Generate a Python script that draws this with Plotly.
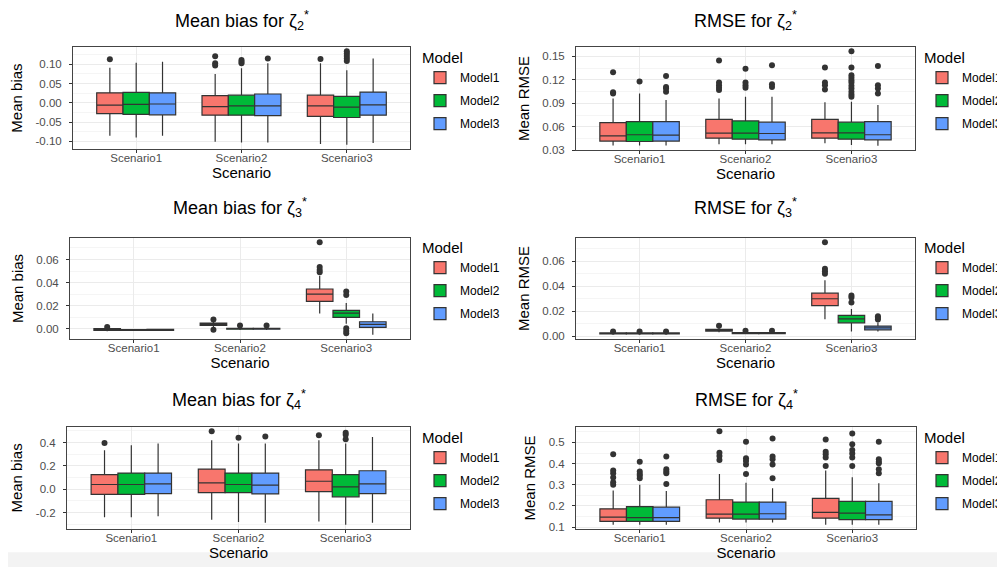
import plotly.graph_objects as go

W, H = 1005, 567

scenarios = ["Scenario1", "Scenario2", "Scenario3"]
models = ["Model1", "Model2", "Model3"]
colors = ["#F8766D", "#00BA38", "#619CFF"]

# ---------- Panel 1: Mean bias for zeta2* (rows = models, cols = scenarios)
bias2_lo  = [[-0.0855, -0.101, -0.107], [-0.090, -0.103, -0.109], [-0.0855, -0.103, -0.104]]
bias2_q1  = [[-0.028, -0.032, -0.035], [-0.030, -0.032, -0.038], [-0.031, -0.033, -0.032]]
bias2_med = [[-0.006, -0.010, -0.008], [-0.004, -0.008, -0.011], [-0.003, -0.008, -0.005]]
bias2_q3  = [[0.026, 0.019, 0.020], [0.027, 0.020, 0.017], [0.026, 0.023, 0.028]]
bias2_hi  = [[0.091, 0.075, 0.103], [0.104, 0.090, 0.085], [0.107, 0.103, 0.115]]
bias2_out = [[[0.113], [0.121, 0.103, 0.097], [0.114]],
             [[], [0.111, 0.107, 0.103], [0.134, 0.128, 0.122, 0.115, 0.109]],
             [[], [0.115], []]]

# ---------- Panel 2: RMSE for zeta2*
rmse2_lo  = [[0.0364, 0.038, 0.0393], [0.0364, 0.038, 0.037], [0.0364, 0.038, 0.036]]
rmse2_q1  = [[0.042, 0.0456, 0.0456], [0.0414, 0.0444, 0.0444], [0.042, 0.0435, 0.0435]]
rmse2_med = [[0.0486, 0.052, 0.0524], [0.050, 0.052, 0.0524], [0.0495, 0.0516, 0.050]]
rmse2_q3  = [[0.0655, 0.0697, 0.0697], [0.0668, 0.0676, 0.066], [0.0668, 0.066, 0.0668]]
rmse2_hi  = [[0.0963, 0.0963, 0.0913], [0.1027, 0.0985, 0.092], [0.0942, 0.0985, 0.0879]]
rmse2_out = [[[0.1297, 0.104, 0.1027], [0.1445, 0.1166, 0.1132, 0.1099, 0.107], [0.1356, 0.1166, 0.113, 0.1078]],
             [[0.118], [0.134, 0.1166, 0.113, 0.110],
              [0.1563, 0.1356, 0.1259, 0.1225, 0.1195, 0.1166, 0.1124, 0.109, 0.1048, 0.1014, 0.0985]],
             [[0.1247, 0.111, 0.109, 0.1048], [0.1386, 0.1145, 0.111], [0.1377, 0.113, 0.109, 0.1027]]]

# ---------- Panel 3: Mean bias for zeta3*
bias3_lo  = [[-0.0020, 0.0015, 0.0133], [-0.0018, -0.0010, 0.0045], [-0.0017, -0.0010, -0.0051]]
bias3_q1  = [[-0.0012, 0.0030, 0.0238], [-0.0013, -0.0003, 0.0099], [-0.0012, -0.0003, 0.0014]]
bias3_med = [[-0.0006, 0.0040, 0.0300], [-0.0009, 0.0000, 0.0136], [-0.0008, 0.0001, 0.0040]]
bias3_q3  = [[0.0002, 0.0050, 0.0345], [-0.0005, 0.0004, 0.0161], [-0.0004, 0.0005, 0.0062]]
bias3_hi  = [[0.0010, 0.0065, 0.0459], [0.0000, 0.0012, 0.0224], [0.0001, 0.0013, 0.0133]]
bias3_out = [[[0.0016], [0.0082, -0.0008], [0.075, 0.0535, 0.051, 0.049]],
             [[], [0.0030], [0.0323, 0.0294, 0.0006, -0.0017, -0.0037]],
             [[], [0.0030], []]]

# ---------- Panel 4: RMSE for zeta3*
rmse3_lo  = [[0.0012, 0.0032, 0.0136], [0.0012, 0.0016, 0.0039], [0.0012, 0.0016, 0.0039]]
rmse3_q1  = [[0.0019, 0.0042, 0.0245], [0.0019, 0.0022, 0.0108], [0.0019, 0.0022, 0.0052]]
rmse3_med = [[0.0023, 0.0050, 0.0300], [0.0023, 0.0026, 0.0139], [0.0023, 0.0026, 0.0067]]
rmse3_q3  = [[0.0027, 0.0056, 0.0345], [0.0027, 0.0030, 0.0167], [0.0027, 0.0030, 0.0082]]
rmse3_hi  = [[0.0030, 0.0068, 0.0448], [0.0030, 0.0038, 0.0219], [0.0030, 0.0038, 0.0110]]
rmse3_out = [[[0.0038], [0.0085], [0.0752, 0.054, 0.052, 0.050]],
             [[0.0038], [0.0044], [0.0327, 0.031, 0.027]],
             [[0.0038], [0.0044], [0.016, 0.0149, 0.0134]]]

# ---------- Panel 5: Mean bias for zeta4*
bias4_lo  = [[-0.239, -0.262, -0.276], [-0.239, -0.281, -0.304], [-0.231, -0.287, -0.287]]
bias4_q1  = [[-0.043, -0.029, -0.020], [-0.043, -0.029, -0.065], [-0.037, -0.040, -0.037]]
bias4_med = [[0.041, 0.055, 0.069], [0.041, 0.041, 0.021], [0.047, 0.036, 0.047]]
bias4_q3  = [[0.125, 0.173, 0.167], [0.139, 0.139, 0.125], [0.139, 0.139, 0.159]]
bias4_hi  = [[0.335, 0.420, 0.420], [0.378, 0.392, 0.392], [0.392, 0.392, 0.448]]
bias4_out = [[[0.397], [0.498], [0.464]],
             [[], [0.442], [0.484, 0.467, 0.428]],
             [[], [0.453], []]]

# ---------- Panel 6: RMSE for zeta4*
rmse4_lo  = [[0.111, 0.122, 0.111], [0.111, 0.122, 0.111], [0.111, 0.122, 0.111]]
rmse4_q1  = [[0.127, 0.142, 0.142], [0.127, 0.138, 0.135], [0.127, 0.138, 0.135]]
rmse4_med = [[0.147, 0.161, 0.169], [0.145, 0.161, 0.166], [0.145, 0.163, 0.158]]
rmse4_q3  = [[0.186, 0.229, 0.236], [0.197, 0.218, 0.221], [0.194, 0.218, 0.221]]
rmse4_hi  = [[0.273, 0.351, 0.367], [0.300, 0.310, 0.335], [0.271, 0.284, 0.307]]
rmse4_out = [[[0.4435, 0.367, 0.354, 0.334, 0.312, 0.300], [0.553, 0.451, 0.436, 0.417], [0.514, 0.456, 0.444, 0.429, 0.389]],
             [[0.409, 0.362, 0.351, 0.342, 0.331], [0.503, 0.425, 0.412, 0.396, 0.351], [0.542, 0.491, 0.464, 0.448, 0.429, 0.389]],
             [[0.433, 0.373, 0.362, 0.354, 0.304], [0.519, 0.433, 0.420, 0.396, 0.331], [0.503, 0.420, 0.409, 0.401, 0.373, 0.354]]]

# ---------- titles and ticks
titles = ["Mean bias for ζ<sub>2</sub><sup>*</sup>", "RMSE for ζ<sub>2</sub><sup>*</sup>",
          "Mean bias for ζ<sub>3</sub><sup>*</sup>", "RMSE for ζ<sub>3</sub><sup>*</sup>",
          "Mean bias for ζ<sub>4</sub><sup>*</sup>", "RMSE for ζ<sub>4</sub><sup>*</sup>"]
ytitles = ["Mean bias", "Mean RMSE", "Mean bias", "Mean RMSE", "Mean bias", "Mean RMSE"]
xtitle = "Scenario"
legend_title = "Model"

bias2_ticks = [-0.10, -0.05, 0.00, 0.05, 0.10]
bias2_ticktext = ["-0.10", "-0.05", "0.00", "0.05", "0.10"]
rmse2_ticks = [0.03, 0.06, 0.09, 0.12, 0.15]
rmse2_ticktext = ["0.03", "0.06", "0.09", "0.12", "0.15"]
bias3_ticks = [0.00, 0.02, 0.04, 0.06]
bias3_ticktext = ["0.00", "0.02", "0.04", "0.06"]
rmse3_ticks = [0.00, 0.02, 0.04, 0.06]
rmse3_ticktext = ["0.00", "0.02", "0.04", "0.06"]
bias4_ticks = [-0.2, 0.0, 0.2, 0.4]
bias4_ticktext = ["-0.2", "0.0", "0.2", "0.4"]
rmse4_ticks = [0.1, 0.2, 0.3, 0.4, 0.5]
rmse4_ticktext = ["0.1", "0.2", "0.3", "0.4", "0.5"]

panels = [
    (bias2_lo, bias2_q1, bias2_med, bias2_q3, bias2_hi, bias2_out, bias2_ticks, bias2_ticktext),
    (rmse2_lo, rmse2_q1, rmse2_med, rmse2_q3, rmse2_hi, rmse2_out, rmse2_ticks, rmse2_ticktext),
    (bias3_lo, bias3_q1, bias3_med, bias3_q3, bias3_hi, bias3_out, bias3_ticks, bias3_ticktext),
    (rmse3_lo, rmse3_q1, rmse3_med, rmse3_q3, rmse3_hi, rmse3_out, rmse3_ticks, rmse3_ticktext),
    (bias4_lo, bias4_q1, bias4_med, bias4_q3, bias4_hi, bias4_out, bias4_ticks, bias4_ticktext),
    (rmse4_lo, rmse4_q1, rmse4_med, rmse4_q3, rmse4_hi, rmse4_out, rmse4_ticks, rmse4_ticktext),
]

# layout (pixel boxes of plot panels: x0, x1, ytop, ybottom)
boxes = [(65, 402, 39, 143), (568, 907, 39, 144),
         (62, 402, 232, 335), (568, 907, 232, 335),
         (59, 402, 423, 527), (568, 908, 423, 527)]
title_y = [13, 13, 202, 202, 396, 396]
legend_pos = [(412, 36), (914, 36), (412, 228), (914, 228), (412, 420), (914, 420)]

FONT = "Liberation Sans, Arial, Helvetica, sans-serif"
fig = go.Figure()
annotations = []
layout_axes = {}

for p, (lo, q1, med, q3, hi, out, ticks, ticktext) in enumerate(panels):
    n = p + 1
    xa = "x" if n == 1 else f"x{n}"
    ya = "y" if n == 1 else f"y{n}"
    lg = "legend" if n == 1 else f"legend{n}"
    for m in range(3):
        # boxes without outliers get a single missing value so every cell is a non-empty list
        pts = [cell if len(cell) else [None] for cell in out[m]]
        fig.add_trace(go.Box(
            x=scenarios, q1=q1[m], median=med[m], q3=q3[m],
            lowerfence=lo[m], upperfence=hi[m], y=pts,
            name=models[m],
            offsetgroup=models[m], legendgroup=f"{models[m]}_{n}",
            fillcolor=colors[m], line=dict(color="#333333", width=1.2),
            whiskerwidth=0, boxpoints="all", jitter=0, pointpos=0,
            marker=dict(color="#333333", size=6, line=dict(width=0)),
            xaxis=xa, yaxis=ya, legend=lg, showlegend=True,
        ))
    # data-derived y range with 5% expansion (as ggplot)
    allv = [v for row in lo for v in row] + [v for row in hi for v in row] + \
           [v for row in out for cell in row for v in cell]
    vmin, vmax = min(allv), max(allv)
    pad = 0.05 * (vmax - vmin)
    yr = [vmin - pad, vmax + pad]
    step = ticks[1] - ticks[0]
    minor = [t - step / 2 for t in ticks] + [ticks[-1] + step / 2]
    minor = [v for v in minor if yr[0] <= v <= yr[1]]

    x0, x1, yt, yb = boxes[p]
    dom_x = [x0 / W, x1 / W]
    dom_y = [1 - yb / H, 1 - yt / H]
    suffix = "" if n == 1 else str(n)
    layout_axes[f"xaxis{suffix}"] = dict(
        domain=dom_x, anchor=ya, type="category", categoryorder="array",
        categoryarray=scenarios, range=[-0.6, 2.6],
        showline=True, mirror=True, linecolor="#444444", linewidth=1,
        ticks="outside", ticklen=3, tickcolor="#333333", tickwidth=1,
        ticklabelstandoff=-5,
        showgrid=True, gridcolor="#EBEBEB", gridwidth=1, zeroline=False,
        tickfont=dict(family=FONT, size=11.5, color="#4D4D4D"),
        title=dict(text=xtitle, font=dict(family=FONT, size=15, color="#000000"), standoff=1),
    )
    layout_axes[f"yaxis{suffix}"] = dict(
        domain=dom_y, anchor=xa, range=yr,
        tickmode="array", tickvals=ticks, ticktext=ticktext,
        showline=True, mirror=True, linecolor="#444444", linewidth=1,
        ticks="outside", ticklen=3, tickcolor="#333333", tickwidth=1,
        ticklabelstandoff=5,
        showgrid=True, gridcolor="#EBEBEB", gridwidth=1, zeroline=False,
        minor=dict(tickmode="array", tickvals=minor, showgrid=True,
                   gridcolor="#F5F5F5", gridwidth=0.8, ticklen=0),
        tickfont=dict(family=FONT, size=11.5, color="#4D4D4D"),
        title=dict(text=ytitles[p], font=dict(family=FONT, size=15, color="#000000"), standoff=9),
    )
    annotations.append(dict(
        text=titles[p], xref="paper", yref="paper",
        x=(x0 + x1) / 2 / W, y=1 - title_y[p] / H, xanchor="center", yanchor="middle",
        showarrow=False, font=dict(family=FONT, size=18, color="#000000"),
    ))
    lx, ly = legend_pos[p]
    layout_axes[lg] = dict(
        x=lx / W, y=1 - ly / H, xanchor="left", yanchor="top",
        bgcolor="rgba(0,0,0,0)", borderwidth=0,
        title=dict(text=legend_title, font=dict(family=FONT, size=15, color="#000000")),
        font=dict(family=FONT, size=12, color="#000000"),
        traceorder="grouped", tracegroupgap=4,
    )

fig.update_layout(
    width=W, height=H, autosize=False,
    margin=dict(l=0, r=0, t=0, b=0),
    paper_bgcolor="white", plot_bgcolor="white",
    boxmode="group", boxgap=0.25, boxgroupgap=0,
    annotations=annotations,
    shapes=[dict(type="rect", xref="paper", yref="paper", x0=0, x1=1, y0=0, y1=17 / H,
                 fillcolor="#F3F3F3", line=dict(width=0), layer="below")],
    font=dict(family=FONT),
    **layout_axes,
)

fig.write_html("out.html")
